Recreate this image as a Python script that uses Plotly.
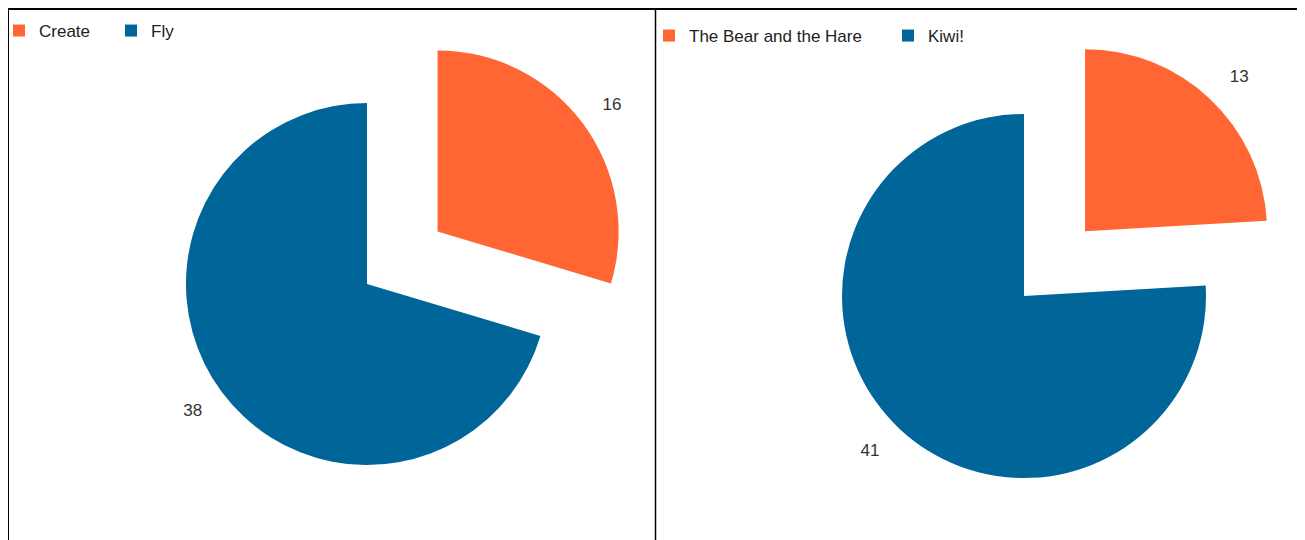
import plotly.graph_objects as go

W, H = 1305, 600
OFF = 8  # page offset of the figure (body margin)

left_labels = ["Create", "Fly"]
left_values = [16, 38]
right_labels = ["The Bear and the Hare", "Kiwi!"]
right_values = [13, 41]
colors = ["#ff6633", "#006699"]

NB = "\u00a0"

def px_x(v):
    return (v - OFF) / W

def px_y(v):
    return 1 - (v - OFF) / H

label_font = dict(size=17, color="#333333", family="Liberation Sans, Arial")

fig = go.Figure()
fig.add_trace(go.Pie(
    labels=left_labels, values=left_values, sort=False, direction="clockwise",
    marker=dict(colors=colors, line=dict(width=0)),
    pull=[0.486, 0], textinfo="value", textposition="outside",
    texttemplate=[NB * 2 + "%{value}<br>" + NB, NB + "<br>%{value}" + NB * 2],
    textfont=label_font,
    domain=dict(x=[px_x(98), px_x(636)], y=[px_y(553), px_y(15)]),
    legend="legend", hoverinfo="label+value+percent",
))
fig.add_trace(go.Pie(
    labels=right_labels, values=right_values, sort=False, direction="clockwise",
    marker=dict(colors=colors, line=dict(width=0)),
    pull=[0.489, 0], textinfo="value", textposition="outside",
    texttemplate=[NB * 2 + "%{value}<br>" + NB, NB + "<br>%{value}" + NB * 2],
    textfont=label_font,
    domain=dict(x=[px_x(753), px_x(1295)], y=[px_y(567), px_y(25)]),
    legend="legend2", hoverinfo="label+value+percent",
))

legend_font = dict(size=17, color="#222222", family="Liberation Sans, Arial")
fig.update_layout(
    width=W, height=H,
    margin=dict(l=0, r=0, t=0, b=0, autoexpand=False),
    paper_bgcolor="white", plot_bgcolor="white",
    legend=dict(orientation="h", x=px_x(-1), y=px_y(13), xanchor="left", yanchor="top",
                font=legend_font, bgcolor="rgba(0,0,0,0)",
                entrywidth=67, entrywidthmode="pixels"),
    legend2=dict(orientation="h", x=px_x(649), y=px_y(18), xanchor="left", yanchor="top",
                 font=legend_font, bgcolor="rgba(0,0,0,0)",
                 entrywidth=194, entrywidthmode="pixels"),
    shapes=[
        dict(type="line", xref="paper", yref="paper", x0=px_x(8), x1=px_x(1299), y0=px_y(9), y1=px_y(9), line=dict(color="black", width=2)),
        dict(type="line", xref="paper", yref="paper", x0=px_x(8), x1=px_x(8), y0=px_y(8), y1=0, line=dict(color="black", width=2)),
        dict(type="line", xref="paper", yref="paper", x0=px_x(655.5), x1=px_x(655.5), y0=px_y(9), y1=0, line=dict(color="black", width=1.5)),
        dict(type="line", xref="paper", yref="paper", x0=px_x(1298), x1=px_x(1298), y0=px_y(9), y1=0, line=dict(color="#555555", width=2)),
    ],
)

fig.write_html("out.html")
